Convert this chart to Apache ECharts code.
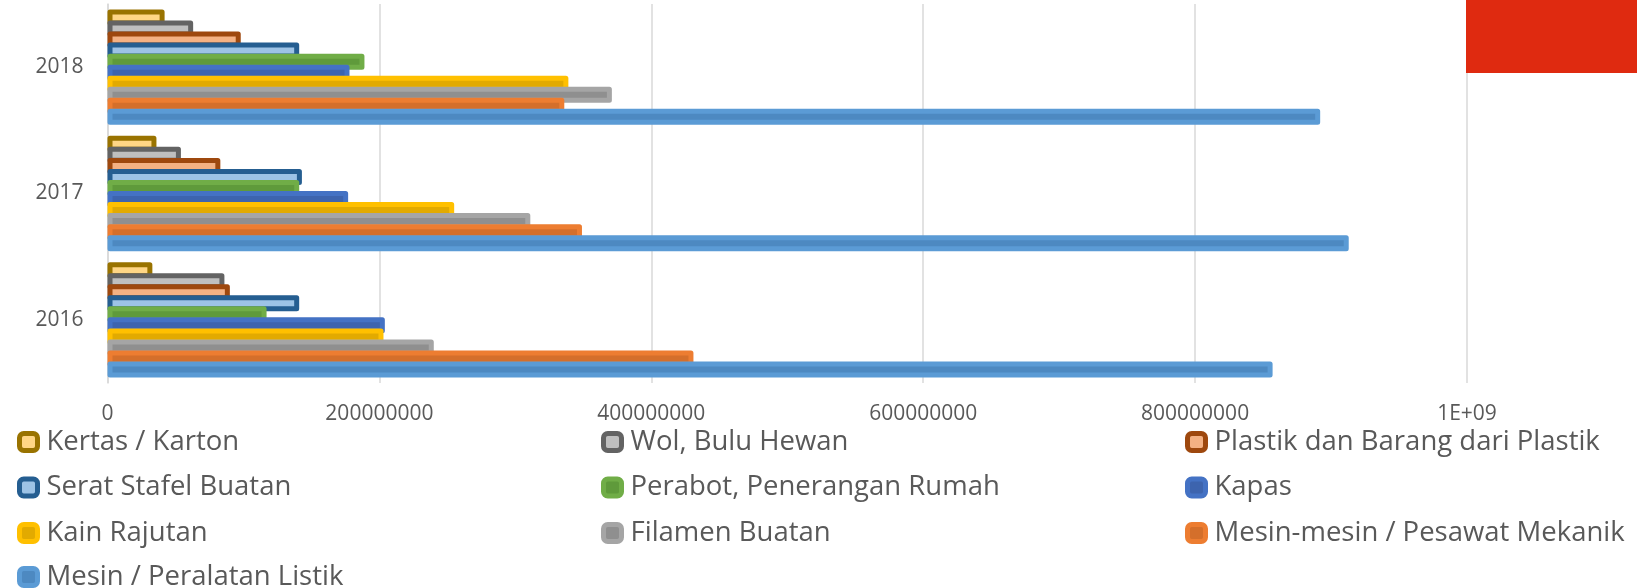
<!DOCTYPE html>
<html lang="id">
<head>
<meta charset="UTF-8">
<title>Ekspor</title>
<script src="https://cdn.jsdelivr.net/npm/echarts@6/dist/echarts.min.js"></script>
<style>
  html, body { margin: 0; padding: 0; background: #fff; }
  #main { width: 1637px; height: 588px; }
</style>
</head>
<body>
<div id="main"></div>
<script>
// kategori (bawah ke atas)
var years = ['2016', '2017', '2018'];

// nilai per seri, urutan tahun sama dengan years
var mesinListrik = [857000000, 913000000, 892000000];
var mesinMekanik = [431000000, 349000000, 336000000];
var filamen      = [240000000, 311000000, 371000000];
var kainRajutan  = [203000000, 255000000, 339000000];
var kapas        = [204000000, 177000000, 178000000];
var perabot      = [117000000, 141000000, 189000000];
var seratStafel  = [141000000, 143000000, 141000000];
var plastik      = [90000000, 83000000, 98000000];
var wol          = [86000000, 54000000, 63000000];
var kertas       = [33000000, 36000000, 42000000];

var xTicks = [0, 200000000, 400000000, 600000000, 800000000, 1000000000];

// urutan seri: echarts menaruh seri pertama paling atas di tiap kategori
var seriesDefs = [
    { name: 'Kertas / Karton', data: kertas, fill: '#FFD685', border: '#997300' },
    { name: 'Wol, Bulu Hewan', data: wol, fill: '#BFBFBF', border: '#636363' },
    { name: 'Plastik dan Barang dari Plastik', data: plastik, fill: '#F4B183', border: '#9E480E' },
    { name: 'Serat Stafel Buatan', data: seratStafel, fill: '#9DC3E6', border: '#255E91' },
    { name: 'Perabot, Penerangan Rumah', data: perabot, fill: '#5F9A3B', border: '#70AD47' },
    { name: 'Kapas', data: kapas, fill: '#3D64AE', border: '#4472C4' },
    { name: 'Kain Rajutan', data: kainRajutan, fill: '#E2AA00', border: '#FFC000' },
    { name: 'Filamen Buatan', data: filamen, fill: '#8F8F8F', border: '#A5A5A5' },
    { name: 'Mesin-mesin / Pesawat Mekanik', data: mesinMekanik, fill: '#D46F2B', border: '#ED7D31' },
    { name: 'Mesin / Peralatan Listik', data: mesinListrik, fill: '#4D89C1', border: '#5B9BD5' }
];

// legenda: tiga kolom, baris terakhir hanya satu item
var legendBlocks = [
    { names: ['Kertas / Karton', 'Serat Stafel Buatan', 'Kain Rajutan'], left: 17, top: 428 },
    { names: ['Wol, Bulu Hewan', 'Perabot, Penerangan Rumah', 'Filamen Buatan'], left: 601, top: 428 },
    { names: ['Plastik dan Barang dari Plastik', 'Kapas', 'Mesin-mesin / Pesawat Mekanik'], left: 1185, top: 428 },
    { names: ['Mesin / Peralatan Listik'], left: 17, top: 563 }
];

var font = '"Open Sans", "DejaVu Sans", sans-serif';

var myChart = echarts.init(document.getElementById('main'));

var series = seriesDefs.map(function (s) {
    return {
        name: s.name,
        type: 'bar',
        barWidth: 16,
        barGap: '-31%',
        data: s.data,
        itemStyle: {
            color: s.fill,
            borderColor: s.border,
            borderWidth: 5,
            borderJoin: 'round'
        },
        emphasis: { disabled: true }
    };
});

var legends = legendBlocks.map(function (b) {
    return {
        data: b.names,
        orient: 'vertical',
        left: b.left,
        top: b.top,
        padding: 0,
        itemWidth: 18,
        itemHeight: 17,
        itemGap: 17.5,
        icon: 'roundRect',
        selectedMode: false,
        itemStyle: { borderWidth: 5 },
        textStyle: {
            fontFamily: font,
            fontSize: 27.5,
            color: '#595959',
            padding: [0, 0, 0, 4]
        }
    };
});

var option = {
    animation: false,
    grid: {
        left: 107.5,
        right: 170,
        top: 4,
        bottom: 205,
        containLabel: false
    },
    legend: legends,
    xAxis: {
        type: 'value',
        min: 0,
        max: 1000000000,
        interval: 200000000,
        axisLine: { show: false },
        axisTick: { show: false },
        splitLine: { lineStyle: { color: '#D9D9D9', width: 1.5 } },
        axisLabel: {
            margin: 21,
            fontFamily: font,
            fontSize: 21,
            color: '#595959',
            formatter: function (v) {
                return v === xTicks[xTicks.length - 1] ? '1E+09' : String(v);
            }
        }
    },
    yAxis: {
        type: 'category',
        data: years,
        axisLine: { show: true, lineStyle: { color: '#D9D9D9', width: 1.5 } },
        axisTick: { show: false },
        axisLabel: {
            margin: 24,
            fontFamily: font,
            fontSize: 21,
            color: '#595959'
        }
    },
    graphic: [
        {
            type: 'rect',
            left: 1466,
            top: 0,
            shape: { width: 171, height: 73 },
            style: { fill: '#DF2A10' },
            z: 100
        }
    ],
    series: series
};

myChart.setOption(option);
</script>
</body>
</html>
